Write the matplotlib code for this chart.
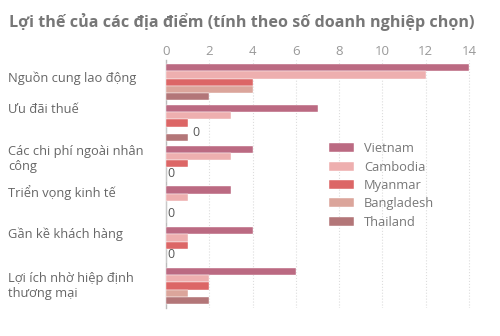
import matplotlib.pyplot as plt
import matplotlib.transforms as mtransforms
import numpy as np

categories = ["Nguồn cung lao động", "Ưu đãi thuế", "Các chi phí ngoài nhân\ncông",
              "Triển vọng kinh tế", "Gần kề khách hàng", "Lợi ích nhờ hiệp định\nthương mại"]
series = ["Vietnam", "Cambodia", "Myanmar", "Bangladesh", "Thailand"]
vietnam = [14, 7, 4, 3, 4, 6]
cambodia = [12, 3, 3, 1, 1, 2]
myanmar = [4, 1, 1, 0, 1, 2]
bangladesh = [4, 0, 0, 0, 0, 1]
thailand = [2, 1, 0, 0, 0, 2]
values = [vietnam, cambodia, myanmar, bangladesh, thailand]
colors = ["#bb6a82", "#eeafaf", "#dc6666", "#dba59b", "#b37678"]
ticks = [0, 2, 4, 6, 8, 10, 12, 14]

# label tweaks (data units) to sit like the original
label_dy = [-0.1, -0.32, -0.12, -0.3, -0.27, 0.0]
zero_x = [None, 1.2, 0.05, 0.05, 0.05, None]

plt.rcParams['font.family'] = ['Open Sans', 'DejaVu Sans']

fig = plt.figure(figsize=(5, 3.36), dpi=100)
ax = fig.add_axes([0.332, 0.083, 0.619, 0.738])

w = 0.178
y = np.arange(len(categories))
for j, (name, vals) in enumerate(zip(series, values)):
    ax.barh(y + (j - 2) * w, vals, height=w, color=colors[j], label=name,
            edgecolor='white', linewidth=0.3, zorder=3)

lab_tr = mtransforms.blended_transform_factory(fig.transFigure, ax.transData)
for i in range(len(categories)):
    if zero_x[i] is not None:
        ax.text(zero_x[i], y[i] + w + 0.05, "0", ha='left', va='center',
                fontsize=9, color='#555555')
    ax.text(0.016, y[i] + label_dy[i], categories[i], transform=lab_tr,
            ha='left', va='center', fontsize=9.3, color='#666666', linespacing=1.25)

ax.set_xlim(0, 14.3)
ax.set_ylim(5.54, -0.54)
ax.set_xticks(ticks)
ax.xaxis.tick_top()
ax.tick_params(axis='x', length=0, labelsize=9.5, labelcolor='#999999', pad=1.5)
ax.set_yticks([])
ax.grid(axis='x', color='#dddddd', linestyle=':', linewidth=0.8, zorder=0)
for s in ['top', 'right', 'bottom']:
    ax.spines[s].set_visible(False)
ax.spines['left'].set_color('#bbbbbb')
ax.spines['left'].set_linewidth(1)

leg = ax.legend(loc='upper left', bbox_to_anchor=(0.51, 0.69), frameon=False,
                fontsize=9.3, handlelength=1.9, handleheight=0.7, labelspacing=0.42,
                handletextpad=0.8, borderaxespad=0)
for t in leg.get_texts():
    t.set_color('#777777')

fig.text(0.018, 0.935, "Lợi thế của các địa điểm (tính theo số doanh nghiệp chọn)",
         fontsize=11.6, fontweight='bold', color='#777777', va='center')

fig.savefig("out.png", dpi=100)
